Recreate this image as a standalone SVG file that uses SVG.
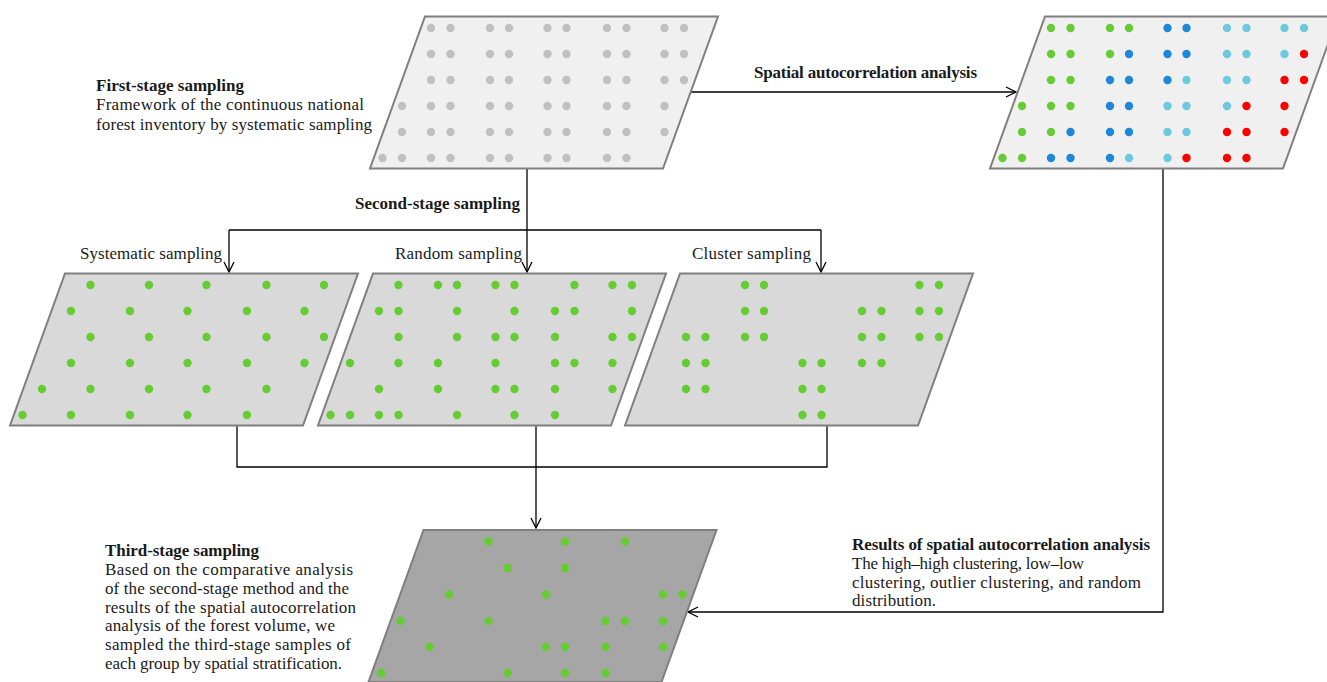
<svg xmlns="http://www.w3.org/2000/svg" width="1327" height="682" viewBox="0 0 1327 682">
<style>
.panel{stroke:#7f7f7f;stroke-width:2;stroke-linejoin:miter}
.p1{fill:#f0f0f0}.p2{fill:#d9d9d9}.p3{fill:#a6a6a6}
.k{fill:#c0c0c0}.g{fill:#66cc33}.b{fill:#1d87d9}.c{fill:#6ccae0}.r{fill:#ff0000}
.conn{fill:none;stroke:#000;stroke-width:1.3}
text{font-family:"Liberation Serif","Times New Roman",serif;font-size:17px;fill:#1a1a1a}
.h{font-weight:bold}
</style>
<defs>
<marker id="arr" markerUnits="userSpaceOnUse" markerWidth="14" markerHeight="14" refX="11" refY="6" orient="auto">
<path d="M1,1 L11,6 L1,11" fill="none" stroke="#000" stroke-width="1.3"/>
</marker>
</defs>

<g id="connectors">
<path class="conn" d="M527,168.5 V272" marker-end="url(#arr)"/>
<path class="conn" d="M229,230 H821"/>
<path class="conn" d="M229,230 V272" marker-end="url(#arr)"/>
<path class="conn" d="M821,230 V272" marker-end="url(#arr)"/>
<path class="conn" d="M691,92 H1016" marker-end="url(#arr)"/>
<path class="conn" d="M237,425.5 V467 H827 V425.5"/>
<path class="conn" d="M536,425.5 V528" marker-end="url(#arr)"/>
<path class="conn" d="M1163,168.5 V612 H688" marker-end="url(#arr)"/>
</g>

<g id="first-stage">
<polygon class="panel p1" points="425,16.5 718,16.5 663,168.5 370,168.5"/>
<g class="k">
<circle cx="431" cy="28" r="4.2"/><circle cx="450.5" cy="28" r="4.2"/><circle cx="490" cy="28" r="4.2"/><circle cx="509" cy="28" r="4.2"/><circle cx="547.5" cy="28" r="4.2"/><circle cx="566.5" cy="28" r="4.2"/><circle cx="607" cy="28" r="4.2"/><circle cx="626.5" cy="28" r="4.2"/><circle cx="664.5" cy="28" r="4.2"/><circle cx="684" cy="28" r="4.2"/>
<circle cx="431" cy="54" r="4.2"/><circle cx="450.5" cy="54" r="4.2"/><circle cx="490" cy="54" r="4.2"/><circle cx="509" cy="54" r="4.2"/><circle cx="547.5" cy="54" r="4.2"/><circle cx="566.5" cy="54" r="4.2"/><circle cx="607" cy="54" r="4.2"/><circle cx="626.5" cy="54" r="4.2"/><circle cx="664.5" cy="54" r="4.2"/><circle cx="684" cy="54" r="4.2"/>
<circle cx="431" cy="80" r="4.2"/><circle cx="450.5" cy="80" r="4.2"/><circle cx="490" cy="80" r="4.2"/><circle cx="509" cy="80" r="4.2"/><circle cx="547.5" cy="80" r="4.2"/><circle cx="566.5" cy="80" r="4.2"/><circle cx="607" cy="80" r="4.2"/><circle cx="626.5" cy="80" r="4.2"/><circle cx="664.5" cy="80" r="4.2"/><circle cx="684" cy="80" r="4.2"/>
<circle cx="402" cy="106" r="4.2"/><circle cx="431" cy="106" r="4.2"/><circle cx="450.5" cy="106" r="4.2"/><circle cx="490" cy="106" r="4.2"/><circle cx="509" cy="106" r="4.2"/><circle cx="547.5" cy="106" r="4.2"/><circle cx="566.5" cy="106" r="4.2"/><circle cx="607" cy="106" r="4.2"/><circle cx="626.5" cy="106" r="4.2"/><circle cx="664.5" cy="106" r="4.2"/>
<circle cx="402" cy="132" r="4.2"/><circle cx="431" cy="132" r="4.2"/><circle cx="450.5" cy="132" r="4.2"/><circle cx="490" cy="132" r="4.2"/><circle cx="509" cy="132" r="4.2"/><circle cx="547.5" cy="132" r="4.2"/><circle cx="566.5" cy="132" r="4.2"/><circle cx="607" cy="132" r="4.2"/><circle cx="626.5" cy="132" r="4.2"/><circle cx="664.5" cy="132" r="4.2"/>
<circle cx="382.5" cy="158" r="4.2"/><circle cx="402" cy="158" r="4.2"/><circle cx="431" cy="158" r="4.2"/><circle cx="450.5" cy="158" r="4.2"/><circle cx="490" cy="158" r="4.2"/><circle cx="509" cy="158" r="4.2"/><circle cx="547.5" cy="158" r="4.2"/><circle cx="566.5" cy="158" r="4.2"/><circle cx="607" cy="158" r="4.2"/><circle cx="626.5" cy="158" r="4.2"/>
</g>
</g>

<g id="autocorrelation">
<polygon class="panel p1" points="1045,16.5 1338,16.5 1283,168.5 990,168.5"/>
<circle class="g" cx="1051" cy="28" r="4.2"/><circle class="g" cx="1070.5" cy="28" r="4.2"/><circle class="g" cx="1110" cy="28" r="4.2"/><circle class="g" cx="1129" cy="28" r="4.2"/><circle class="b" cx="1167.5" cy="28" r="4.2"/><circle class="b" cx="1186.5" cy="28" r="4.2"/><circle class="c" cx="1227" cy="28" r="4.2"/><circle class="c" cx="1246.5" cy="28" r="4.2"/><circle class="c" cx="1284.5" cy="28" r="4.2"/><circle class="c" cx="1304" cy="28" r="4.2"/>
<circle class="g" cx="1051" cy="54" r="4.2"/><circle class="g" cx="1070.5" cy="54" r="4.2"/><circle class="g" cx="1110" cy="54" r="4.2"/><circle class="b" cx="1129" cy="54" r="4.2"/><circle class="b" cx="1167.5" cy="54" r="4.2"/><circle class="b" cx="1186.5" cy="54" r="4.2"/><circle class="c" cx="1227" cy="54" r="4.2"/><circle class="c" cx="1246.5" cy="54" r="4.2"/><circle class="c" cx="1284.5" cy="54" r="4.2"/><circle class="r" cx="1304" cy="54" r="4.2"/>
<circle class="g" cx="1051" cy="80" r="4.2"/><circle class="g" cx="1070.5" cy="80" r="4.2"/><circle class="b" cx="1110" cy="80" r="4.2"/><circle class="b" cx="1129" cy="80" r="4.2"/><circle class="b" cx="1167.5" cy="80" r="4.2"/><circle class="c" cx="1186.5" cy="80" r="4.2"/><circle class="c" cx="1227" cy="80" r="4.2"/><circle class="c" cx="1246.5" cy="80" r="4.2"/><circle class="r" cx="1284.5" cy="80" r="4.2"/><circle class="r" cx="1304" cy="80" r="4.2"/>
<circle class="g" cx="1022" cy="106" r="4.2"/><circle class="g" cx="1051" cy="106" r="4.2"/><circle class="g" cx="1070.5" cy="106" r="4.2"/><circle class="b" cx="1110" cy="106" r="4.2"/><circle class="b" cx="1129" cy="106" r="4.2"/><circle class="c" cx="1167.5" cy="106" r="4.2"/><circle class="c" cx="1186.5" cy="106" r="4.2"/><circle class="c" cx="1227" cy="106" r="4.2"/><circle class="r" cx="1246.5" cy="106" r="4.2"/><circle class="r" cx="1284.5" cy="106" r="4.2"/>
<circle class="g" cx="1022" cy="132" r="4.2"/><circle class="g" cx="1051" cy="132" r="4.2"/><circle class="b" cx="1070.5" cy="132" r="4.2"/><circle class="b" cx="1110" cy="132" r="4.2"/><circle class="b" cx="1129" cy="132" r="4.2"/><circle class="c" cx="1167.5" cy="132" r="4.2"/><circle class="c" cx="1186.5" cy="132" r="4.2"/><circle class="r" cx="1227" cy="132" r="4.2"/><circle class="r" cx="1246.5" cy="132" r="4.2"/><circle class="r" cx="1284.5" cy="132" r="4.2"/>
<circle class="g" cx="1002.5" cy="158" r="4.2"/><circle class="g" cx="1022" cy="158" r="4.2"/><circle class="b" cx="1051" cy="158" r="4.2"/><circle class="b" cx="1070.5" cy="158" r="4.2"/><circle class="b" cx="1110" cy="158" r="4.2"/><circle class="c" cx="1129" cy="158" r="4.2"/><circle class="c" cx="1167.5" cy="158" r="4.2"/><circle class="r" cx="1186.5" cy="158" r="4.2"/><circle class="r" cx="1227" cy="158" r="4.2"/><circle class="r" cx="1246.5" cy="158" r="4.2"/>
</g>

<g id="systematic">
<polygon class="panel p2" points="65,273.5 358,273.5 303,425.5 10,425.5"/>
<g class="g">
<circle cx="90.5" cy="285" r="4.2"/><circle cx="149" cy="285" r="4.2"/><circle cx="206.5" cy="285" r="4.2"/><circle cx="266.5" cy="285" r="4.2"/><circle cx="324" cy="285" r="4.2"/>
<circle cx="71" cy="311" r="4.2"/><circle cx="130" cy="311" r="4.2"/><circle cx="187.5" cy="311" r="4.2"/><circle cx="247" cy="311" r="4.2"/><circle cx="304.5" cy="311" r="4.2"/>
<circle cx="90.5" cy="337" r="4.2"/><circle cx="149" cy="337" r="4.2"/><circle cx="206.5" cy="337" r="4.2"/><circle cx="266.5" cy="337" r="4.2"/><circle cx="324" cy="337" r="4.2"/>
<circle cx="71" cy="363" r="4.2"/><circle cx="130" cy="363" r="4.2"/><circle cx="187.5" cy="363" r="4.2"/><circle cx="247" cy="363" r="4.2"/><circle cx="304.5" cy="363" r="4.2"/>
<circle cx="42" cy="389" r="4.2"/><circle cx="90.5" cy="389" r="4.2"/><circle cx="149" cy="389" r="4.2"/><circle cx="206.5" cy="389" r="4.2"/><circle cx="266.5" cy="389" r="4.2"/>
<circle cx="22.5" cy="415" r="4.2"/><circle cx="71" cy="415" r="4.2"/><circle cx="130" cy="415" r="4.2"/><circle cx="187.5" cy="415" r="4.2"/><circle cx="247" cy="415" r="4.2"/>
</g>
</g>

<g id="random">
<polygon class="panel p2" points="373,273.5 666,273.5 611,425.5 318,425.5"/>
<g class="g">
<circle cx="398.5" cy="285" r="4.2"/><circle cx="438" cy="285" r="4.2"/><circle cx="457" cy="285" r="4.2"/><circle cx="495.5" cy="285" r="4.2"/><circle cx="514.5" cy="285" r="4.2"/><circle cx="574.5" cy="285" r="4.2"/><circle cx="612.5" cy="285" r="4.2"/><circle cx="632" cy="285" r="4.2"/>
<circle cx="379" cy="311" r="4.2"/><circle cx="398.5" cy="311" r="4.2"/><circle cx="457" cy="311" r="4.2"/><circle cx="514.5" cy="311" r="4.2"/><circle cx="555" cy="311" r="4.2"/><circle cx="574.5" cy="311" r="4.2"/><circle cx="632" cy="311" r="4.2"/>
<circle cx="398.5" cy="337" r="4.2"/><circle cx="457" cy="337" r="4.2"/><circle cx="495.5" cy="337" r="4.2"/><circle cx="514.5" cy="337" r="4.2"/><circle cx="555" cy="337" r="4.2"/><circle cx="612.5" cy="337" r="4.2"/><circle cx="632" cy="337" r="4.2"/>
<circle cx="350" cy="363" r="4.2"/><circle cx="398.5" cy="363" r="4.2"/><circle cx="438" cy="363" r="4.2"/><circle cx="495.5" cy="363" r="4.2"/><circle cx="555" cy="363" r="4.2"/><circle cx="574.5" cy="363" r="4.2"/><circle cx="612.5" cy="363" r="4.2"/>
<circle cx="379" cy="389" r="4.2"/><circle cx="438" cy="389" r="4.2"/><circle cx="495.5" cy="389" r="4.2"/><circle cx="514.5" cy="389" r="4.2"/><circle cx="555" cy="389" r="4.2"/><circle cx="612.5" cy="389" r="4.2"/>
<circle cx="330.5" cy="415" r="4.2"/><circle cx="350" cy="415" r="4.2"/><circle cx="379" cy="415" r="4.2"/><circle cx="398.5" cy="415" r="4.2"/><circle cx="457" cy="415" r="4.2"/><circle cx="514.5" cy="415" r="4.2"/><circle cx="555" cy="415" r="4.2"/>
</g>
</g>

<g id="cluster">
<polygon class="panel p2" points="680,273.5 973,273.5 918,425.5 625,425.5"/>
<g class="g">
<circle cx="745" cy="285" r="4.2"/><circle cx="764" cy="285" r="4.2"/><circle cx="919.5" cy="285" r="4.2"/><circle cx="939" cy="285" r="4.2"/>
<circle cx="745" cy="311" r="4.2"/><circle cx="764" cy="311" r="4.2"/><circle cx="862" cy="311" r="4.2"/><circle cx="881.5" cy="311" r="4.2"/><circle cx="919.5" cy="311" r="4.2"/><circle cx="939" cy="311" r="4.2"/>
<circle cx="686" cy="337" r="4.2"/><circle cx="705.5" cy="337" r="4.2"/><circle cx="745" cy="337" r="4.2"/><circle cx="764" cy="337" r="4.2"/><circle cx="862" cy="337" r="4.2"/><circle cx="881.5" cy="337" r="4.2"/><circle cx="919.5" cy="337" r="4.2"/><circle cx="939" cy="337" r="4.2"/>
<circle cx="686" cy="363" r="4.2"/><circle cx="705.5" cy="363" r="4.2"/><circle cx="802.5" cy="363" r="4.2"/><circle cx="821.5" cy="363" r="4.2"/><circle cx="862" cy="363" r="4.2"/><circle cx="881.5" cy="363" r="4.2"/>
<circle cx="686" cy="389" r="4.2"/><circle cx="705.5" cy="389" r="4.2"/><circle cx="802.5" cy="389" r="4.2"/><circle cx="821.5" cy="389" r="4.2"/>
<circle cx="802.5" cy="415" r="4.2"/><circle cx="821.5" cy="415" r="4.2"/>
</g>
</g>

<g id="third-stage">
<polygon class="panel p3" points="423.5,530 716.5,530 661.5,682 368.5,682"/>
<g class="g">
<circle cx="488.5" cy="541.5" r="4.2"/><circle cx="565" cy="541.5" r="4.2"/><circle cx="625" cy="541.5" r="4.2"/>
<circle cx="507.5" cy="568" r="4.2"/><circle cx="565" cy="568" r="4.2"/>
<circle cx="449" cy="594.5" r="4.2"/><circle cx="546" cy="594.5" r="4.2"/><circle cx="663" cy="594.5" r="4.2"/><circle cx="682.5" cy="594.5" r="4.2"/>
<circle cx="400.5" cy="621" r="4.2"/><circle cx="488.5" cy="621" r="4.2"/><circle cx="605.5" cy="621" r="4.2"/><circle cx="625" cy="621" r="4.2"/><circle cx="663" cy="621" r="4.2"/>
<circle cx="429.5" cy="647" r="4.2"/><circle cx="546" cy="647" r="4.2"/><circle cx="565" cy="647" r="4.2"/><circle cx="605.5" cy="647" r="4.2"/><circle cx="663" cy="647" r="4.2"/>
<circle cx="381" cy="673" r="4.2"/><circle cx="507.5" cy="673" r="4.2"/><circle cx="565" cy="673" r="4.2"/><circle cx="605.5" cy="673" r="4.2"/>
</g>
</g>

<g id="labels">
<text class="h" x="96" y="91" textLength="148">First-stage sampling</text>
<text x="96" y="110" textLength="268">Framework of the continuous national</text>
<text x="96" y="130" textLength="276">forest inventory by systematic sampling</text>
<text class="h" x="754" y="78" textLength="223">Spatial autocorrelation analysis</text>
<text class="h" x="355" y="209" textLength="165">Second-stage sampling</text>
<text x="80" y="259" textLength="142">Systematic sampling</text>
<text x="395" y="259" textLength="127">Random sampling</text>
<text x="692" y="259" textLength="119">Cluster sampling</text>
<text class="h" x="105" y="556" textLength="154">Third-stage sampling</text>
<text x="105" y="575" textLength="248">Based on the comparative analysis</text>
<text x="105" y="594" textLength="244">of the second-stage method and the</text>
<text x="105" y="613" textLength="251">results of the spatial autocorrelation</text>
<text x="105" y="631" textLength="230">analysis of the forest volume, we</text>
<text x="105" y="650" textLength="246">sampled the third-stage samples of</text>
<text x="105" y="669" textLength="237">each group by spatial stratification.</text>
<text class="h" x="852" y="550" textLength="298">Results of spatial autocorrelation analysis</text>
<text x="852" y="569" textLength="232">The high–high clustering, low–low</text>
<text x="852" y="588" textLength="289">clustering, outlier clustering, and random</text>
<text x="852" y="606" textLength="84">distribution.</text>
</g>
</svg>
